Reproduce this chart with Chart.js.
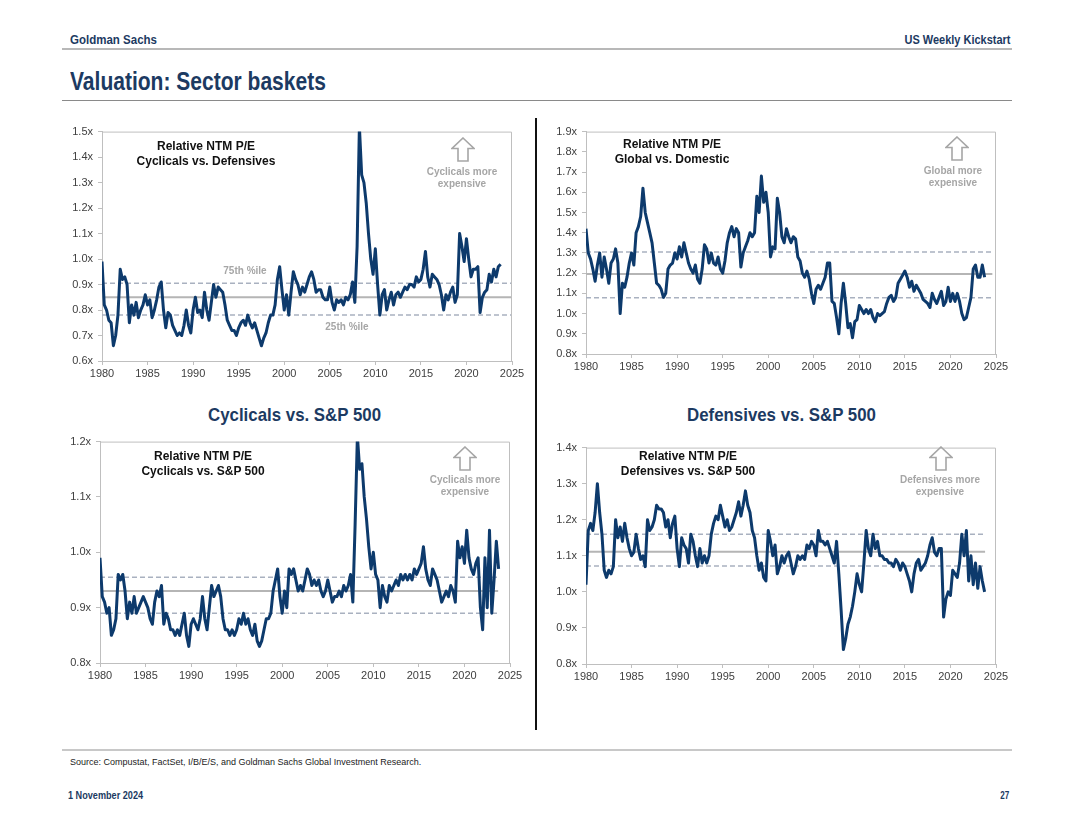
<!DOCTYPE html>
<html><head><meta charset="utf-8">
<script src="https://cdn.jsdelivr.net/npm/chart.js@4.4.0/dist/chart.umd.min.js"></script>
<style>
html,body{margin:0;padding:0;background:#fff;}
body{width:1080px;height:835px;position:relative;overflow:hidden;font-family:"Liberation Sans",Arial,sans-serif;}
.abs{position:absolute;}
.nb{font-family:"Liberation Sans",Arial,sans-serif;font-weight:bold;color:#1c3a62;white-space:nowrap;}
.ttl{font-family:"Liberation Sans",Arial,sans-serif;font-weight:bold;font-size:12px;line-height:15px;color:#111;text-align:center;white-space:nowrap;}
.note{font-family:"Liberation Sans",Arial,sans-serif;font-weight:bold;font-size:10px;line-height:12px;color:#a6a6a6;text-align:center;white-space:nowrap;}
.box{position:absolute;}
</style></head>
<body>
<!-- header -->
<div class="abs nb fit" data-w="87" data-o="left" style="left:70px;top:32px;font-size:13px;line-height:16px;">Goldman Sachs</div>
<div class="abs nb fit" data-w="106" data-o="right" style="right:70px;top:32px;font-size:13px;line-height:16px;">US Weekly Kickstart</div>
<div class="abs" style="left:62px;top:48px;width:950px;height:2px;background:#b8b8b8;"></div>
<div class="abs nb fit" data-w="256" data-o="left" style="left:70px;top:67px;font-size:25px;line-height:28px;">Valuation: Sector baskets</div>
<div class="abs" style="left:62px;top:100px;width:950px;height:1px;background:#8a8a8a;"></div>

<!-- separator -->
<div class="abs" style="left:535px;top:118px;width:2px;height:612px;background:#111;"></div>

<!-- section titles -->
<div class="abs nb fit" data-w="173" data-o="left" style="left:208px;top:404px;font-size:19px;line-height:22px;">Cyclicals vs. S&amp;P 500</div>
<div class="abs nb fit" data-w="189" data-o="left" style="left:687px;top:404px;font-size:19px;line-height:22px;">Defensives vs. S&amp;P 500</div>

<!-- charts -->
<div class="box" style="left:52px;top:120px;width:480px;height:263px;"><canvas id="c1"></canvas></div>
<div class="box" style="left:536px;top:120px;width:480px;height:256px;"><canvas id="c2"></canvas></div>
<div class="box" style="left:50px;top:430px;width:480px;height:255px;"><canvas id="c3"></canvas></div>
<div class="box" style="left:536px;top:436px;width:480px;height:250px;"><canvas id="c4"></canvas></div>

<!-- in-chart titles -->
<div class="abs ttl" style="left:106px;width:200px;top:139px;">Relative NTM P/E<br>Cyclicals vs. Defensives</div>
<div class="abs ttl" style="left:572px;width:200px;top:137px;">Relative NTM P/E<br>Global vs. Domestic</div>
<div class="abs ttl" style="left:103px;width:200px;top:449px;">Relative NTM P/E<br>Cyclicals vs. S&amp;P 500</div>
<div class="abs ttl" style="left:588px;width:200px;top:449px;">Relative NTM P/E<br>Defensives vs. S&amp;P 500</div>

<!-- arrows + notes -->
<svg class="abs" style="left:451px;top:137px;" width="24" height="25" viewBox="0 0 24 25"><path d="M12 1 L23 11.5 L17 11.5 L17 24 L7 24 L7 11.5 L1 11.5 Z" fill="none" stroke="#a6a6a6" stroke-width="1.6"/></svg>
<div class="abs note" style="left:412px;width:100px;top:166px;">Cyclicals more<br>expensive</div>
<svg class="abs" style="left:945px;top:136px;" width="24" height="25" viewBox="0 0 24 25"><path d="M12 1 L23 11.5 L17 11.5 L17 24 L7 24 L7 11.5 L1 11.5 Z" fill="none" stroke="#a6a6a6" stroke-width="1.6"/></svg>
<div class="abs note" style="left:903px;width:100px;top:165px;">Global more<br>expensive</div>
<svg class="abs" style="left:453px;top:446px;" width="24" height="25" viewBox="0 0 24 25"><path d="M12 1 L23 11.5 L17 11.5 L17 24 L7 24 L7 11.5 L1 11.5 Z" fill="none" stroke="#a6a6a6" stroke-width="1.6"/></svg>
<div class="abs note" style="left:415px;width:100px;top:474px;">Cyclicals more<br>expensive</div>
<svg class="abs" style="left:929px;top:446px;" width="24" height="25" viewBox="0 0 24 25"><path d="M12 1 L23 11.5 L17 11.5 L17 24 L7 24 L7 11.5 L1 11.5 Z" fill="none" stroke="#a6a6a6" stroke-width="1.6"/></svg>
<div class="abs note" style="left:890px;width:100px;top:474px;">Defensives more<br>expensive</div>

<!-- percentile labels chart 1 -->
<div class="abs note" style="left:205px;width:80px;top:265px;">75th %ile</div>
<div class="abs note" style="left:307px;width:80px;top:321px;">25th %ile</div>

<!-- footer -->
<div class="abs" style="left:62px;top:749px;width:950px;height:2px;background:#c8c8c8;"></div>
<div class="abs" style="left:70px;top:757px;font-size:9px;line-height:11px;color:#222;">Source: Compustat, FactSet, I/B/E/S, and Goldman Sachs Global Investment Research.</div>
<div class="abs nb fit" data-w="75" data-o="left" style="left:68px;top:789px;font-size:11px;line-height:13px;">1 November 2024</div>
<div class="abs nb fit" data-w="9" data-o="right" style="right:71px;top:789px;font-size:11px;line-height:13px;">27</div>

<script>
// ---- Data (quarterly observations, starting 1980 Q1) ----
const startYear = 1980;
const quarterStep = 0.25;

const cycVsDef = [
0.99,0.82,0.80,0.76, 0.75,0.66,0.70,0.78, 0.96,0.92,0.93,0.90, 0.75,0.82,0.78,0.83,
0.77,0.80,0.82,0.86, 0.82,0.84,0.77,0.80, 0.84,0.89,0.91,0.80, 0.73,0.79,0.78,0.74,
0.72,0.70,0.71,0.70, 0.74,0.80,0.74,0.71, 0.80,0.85,0.79,0.80, 0.77,0.87,0.80,0.76,
0.83,0.90,0.85,0.89, 0.88,0.87,0.82,0.76, 0.74,0.72,0.72,0.70, 0.73,0.75,0.76,0.74,
0.78,0.75,0.73,0.75, 0.72,0.69,0.66,0.69, 0.71,0.75,0.78,0.78, 0.82,0.92,0.97,0.88,
0.80,0.86,0.78,0.87, 0.95,0.92,0.90,0.86, 0.89,0.87,0.90,0.93, 0.95,0.92,0.87,0.88,
0.88,0.85,0.84,0.84, 0.89,0.83,0.80,0.84, 0.83,0.84,0.82,0.85, 0.84,0.86,0.91,0.83,
1.05,1.52,1.33,1.30, 1.22,1.10,1.00,0.94, 1.04,0.90,0.78,0.86, 0.88,0.80,0.84,0.87,
0.82,0.86,0.87,0.85, 0.87,0.89,0.88,0.90, 0.90,0.89,0.93,0.91, 0.92,0.96,1.03,0.93,
0.89,0.94,0.93,0.92, 0.90,0.86,0.80,0.86, 0.84,0.87,0.89,0.83, 0.86,1.10,1.05,0.99,
1.08,1.00,0.93,0.96, 0.96,0.97,0.79,0.85, 0.87,0.88,0.94,0.91, 0.96,0.93,0.97,0.98
];
const globVsDom = [
1.42,1.30,1.27,1.22, 1.16,1.24,1.30,1.18, 1.28,1.22,1.15,1.25, 1.27,1.32,1.25,1.00,
1.15,1.13,1.18,1.25, 1.30,1.24,1.40,1.43, 1.48,1.62,1.50,1.45, 1.40,1.35,1.25,1.15,
1.14,1.12,1.08,1.10, 1.22,1.24,1.25,1.30, 1.27,1.33,1.28,1.35, 1.30,1.25,1.22,1.20,
1.24,1.17,1.15,1.22, 1.34,1.32,1.25,1.30, 1.25,1.24,1.28,1.22, 1.20,1.26,1.35,1.40,
1.43,1.38,1.42,1.40, 1.23,1.30,1.33,1.36, 1.40,1.38,1.40,1.58, 1.50,1.68,1.55,1.60,
1.50,1.28,1.33,1.32, 1.57,1.50,1.38,1.35, 1.42,1.38,1.35,1.38, 1.37,1.28,1.26,1.20,
1.18,1.21,1.17,1.10, 1.05,1.12,1.14,1.12, 1.15,1.18,1.25,1.25, 1.06,1.05,0.98,0.90,
1.05,1.15,1.05,0.93, 0.95,0.88,0.96,0.97, 1.04,1.02,1.00,1.02, 1.00,1.02,0.98,0.96,
1.00,0.99,1.00,1.01, 1.05,1.08,1.09,1.06, 1.08,1.15,1.17,1.19, 1.21,1.18,1.13,1.16,
1.11,1.14,1.12,1.10, 1.07,1.06,1.05,1.03, 1.10,1.07,1.05,1.08, 1.11,1.04,1.06,1.13,
1.06,1.10,1.06,1.10, 1.06,1.00,0.97,0.98, 1.03,1.08,1.22,1.24, 1.18,1.18,1.24,1.18
];
const cycVsSpx = [
0.99,0.92,0.91,0.89, 0.90,0.85,0.86,0.88, 0.96,0.95,0.96,0.93, 0.88,0.91,0.89,0.92,
0.89,0.90,0.91,0.92, 0.91,0.90,0.88,0.87, 0.91,0.93,0.92,0.94, 0.87,0.89,0.88,0.86,
0.86,0.85,0.86,0.85, 0.87,0.89,0.85,0.83, 0.87,0.88,0.87,0.86, 0.88,0.92,0.88,0.86,
0.90,0.94,0.92,0.93, 0.94,0.92,0.88,0.86, 0.86,0.85,0.86,0.85, 0.86,0.88,0.87,0.89,
0.87,0.88,0.86,0.85, 0.87,0.84,0.83,0.84, 0.86,0.88,0.88,0.89, 0.93,0.95,0.97,0.92,
0.89,0.93,0.90,0.97, 0.96,0.97,0.95,0.93, 0.94,0.93,0.95,0.97, 0.96,0.94,0.95,0.94,
0.95,0.93,0.92,0.93, 0.95,0.93,0.91,0.92, 0.92,0.93,0.92,0.94, 0.93,0.94,0.96,0.91,
1.05,1.21,1.15,1.16, 1.10,1.06,1.01,0.97, 1.00,0.96,0.95,0.90, 0.94,0.92,0.91,0.94,
0.93,0.94,0.95,0.94, 0.96,0.95,0.96,0.95, 0.96,0.95,0.97,0.96, 0.97,0.98,1.01,0.97,
0.95,0.94,0.97,0.96, 0.95,0.93,0.91,0.92, 0.93,0.92,0.94,0.93, 0.91,1.02,0.99,1.01,
0.98,1.04,0.99,0.97, 0.96,0.98,0.99,0.90, 0.86,0.99,0.90,1.04, 0.89,0.95,1.02,0.97
];
const defVsSpx = [
1.02,1.17,1.19,1.17, 1.22,1.30,1.22,1.16, 1.06,1.04,1.06,1.05, 1.07,1.20,1.15,1.18,
1.14,1.19,1.15,1.12, 1.10,1.11,1.16,1.12, 1.09,1.10,1.07,1.20, 1.17,1.18,1.20,1.24,
1.23,1.23,1.22,1.18, 1.20,1.15,1.19,1.21, 1.12,1.07,1.15,1.13, 1.12,1.08,1.16,1.14,
1.10,1.07,1.12,1.08, 1.10,1.08,1.10,1.16, 1.19,1.21,1.20,1.24, 1.21,1.18,1.20,1.17,
1.18,1.20,1.22,1.25, 1.21,1.24,1.28,1.24, 1.22,1.17,1.15,1.10, 1.06,1.08,1.04,1.03,
1.17,1.14,1.10,1.13, 1.05,1.07,1.10,1.08, 1.10,1.11,1.08,1.05, 1.07,1.10,1.09,1.10,
1.09,1.13,1.12,1.14, 1.13,1.10,1.17,1.14, 1.14,1.13,1.14,1.12, 1.10,1.08,1.14,1.05,
0.95,0.84,0.87,0.91, 0.93,0.96,1.00,1.05, 1.02,1.00,1.08,1.17, 1.12,1.10,1.16,1.12,
1.14,1.10,1.10,1.09, 1.09,1.08,1.08,1.07, 1.09,1.08,1.06,1.08, 1.07,1.05,1.03,1.00,
1.05,1.08,1.09,1.06, 1.07,1.08,1.10,1.13, 1.15,1.11,1.10,1.12, 1.12,0.93,0.98,1.00,
0.99,1.06,1.05,1.04, 1.08,1.16,1.10,1.17, 1.03,1.10,1.02,1.08, 1.01,1.07,1.03,1.00
];

// reference levels: [25th pct, average, 75th pct]
const refCycDef  = [0.78, 0.85, 0.905];
const refGlobDom = [1.078, 1.196, 1.305];
const refCycSpx  = [0.89, 0.93, 0.955];
const refDefSpx  = [1.072, 1.111, 1.160];
// last year covered by the reference lines
const refEnd = [2024.9, 2024.6, 2023.7, 2023.8];

const yRanges = [[0.6,1.5],[0.8,1.9],[0.8,1.2],[0.8,1.4]];
const xTickYears = [1980,1985,1990,1995,2000,2005,2010,2015,2020,2025];

const NAVY = '#0d3a6c';
const AXIS = '#bfbfbf';

// condense bold header texts to the reference widths
document.querySelectorAll('.fit').forEach(el => {
  const w = el.getBoundingClientRect().width;
  const s = Number(el.dataset.w) / w;
  el.style.transformOrigin = el.dataset.o + ' center';
  el.style.transform = 'scaleX(' + s.toFixed(3) + ')';
});

const framePlugin = {
  id:'frame',
  beforeDatasetsDraw(chart){
    const {ctx, chartArea:a} = chart;
    ctx.save();
    ctx.strokeStyle = AXIS; ctx.lineWidth = 1;
    ctx.beginPath();
    ctx.moveTo(a.left, a.top+0.5); ctx.lineTo(a.right-0.5, a.top+0.5); ctx.lineTo(a.right-0.5, a.bottom);
    ctx.stroke();
    ctx.restore();
  }
};

function makeChart(id, values, refs, range, endX){
  const pts = values.map((v,i)=>({x: startYear + i*quarterStep, y: v}));
  const refSet = (v, dashed) => ({
    data:[{x:startYear,y:v},{x:endX,y:v}],
    borderColor: dashed ? '#a9b1c0' : '#b5b5b5',
    borderWidth: dashed ? 1.5 : 2,
    borderDash: dashed ? [5,3] : [],
    pointRadius:0
  });
  new Chart(document.getElementById(id), {
    type:'line',
    data:{datasets:[
      {data:pts, borderColor:NAVY, borderWidth:3, pointRadius:0, tension:0, borderJoinStyle:'round'},
      refSet(refs[1], false),
      refSet(refs[0], true),
      refSet(refs[2], true)
    ]},
    options:{
      responsive:true, maintainAspectRatio:false, animation:false, events:[],
      layout:{padding:{left:0,right:20,top:11,bottom:0}},
      plugins:{legend:{display:false}, tooltip:{enabled:false}},
      scales:{
        x:{type:'linear', min:1980, max:2025,
          afterBuildTicks: s => { s.ticks = xTickYears.map(v=>({value:v})); },
          afterFit: s => { s.height = 22; },
          ticks:{autoSkip:false, maxRotation:0, padding:2, color:'#404040',
            font:{family:'"Liberation Sans", Arial, sans-serif', size:11},
            callback: v => String(v)},
          grid:{drawOnChartArea:false, drawTicks:true, tickLength:4, color:AXIS},
          border:{display:true, color:AXIS, width:1}
        },
        y:{min:range[0], max:range[1],
          afterFit: s => { s.width = 50; },
          ticks:{stepSize:0.1, padding:5, color:'#404040',
            font:{family:'"Liberation Sans", Arial, sans-serif', size:11},
            callback: v => Number(v).toFixed(1)+'x'},
          grid:{drawOnChartArea:false, drawTicks:true, tickLength:4, color:AXIS},
          border:{display:true, color:AXIS, width:1}
        }
      }
    },
    plugins:[framePlugin]
  });
}

makeChart('c1', cycVsDef,  refCycDef,  yRanges[0], refEnd[0]);
makeChart('c2', globVsDom, refGlobDom, yRanges[1], refEnd[1]);
makeChart('c3', cycVsSpx,  refCycSpx,  yRanges[2], refEnd[2]);
makeChart('c4', defVsSpx,  refDefSpx,  yRanges[3], refEnd[3]);
</script>
</body></html>
